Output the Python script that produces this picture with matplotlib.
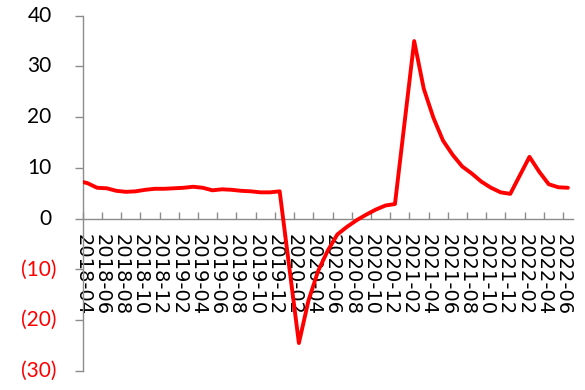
import matplotlib
matplotlib.use("Agg")
import matplotlib.pyplot as plt
from matplotlib.transforms import ScaledTranslation, blended_transform_factory

# Monthly year-to-date growth (%); January has no release, so it is left out
periods = [
    "2018-03", "2018-04", "2018-05", "2018-06", "2018-07", "2018-08", "2018-09",
    "2018-10", "2018-11", "2018-12",
    "2019-02", "2019-03", "2019-04", "2019-05", "2019-06", "2019-07", "2019-08",
    "2019-09", "2019-10", "2019-11", "2019-12",
    "2020-02", "2020-03", "2020-04", "2020-05", "2020-06", "2020-07", "2020-08",
    "2020-09", "2020-10", "2020-11", "2020-12",
    "2021-02", "2021-03", "2021-04", "2021-05", "2021-06", "2021-07", "2021-08",
    "2021-09", "2021-10", "2021-11", "2021-12",
    "2022-02", "2022-03", "2022-04", "2022-05", "2022-06",
]
growth = [
    7.5, 7.0, 6.1, 6.0, 5.5, 5.3, 5.4, 5.7, 5.9, 5.9,
    6.1, 6.3, 6.1, 5.6, 5.8, 5.7, 5.5, 5.4, 5.2, 5.2, 5.4,
    -24.5, -16.1, -10.3, -6.3, -3.1, -1.6, -0.3, 0.8, 1.8, 2.6, 2.9,
    35.0, 25.6, 19.9, 15.4, 12.6, 10.3, 8.9, 7.3, 6.1, 5.2, 4.9,
    12.2, 9.3, 6.8, 6.2, 6.1,
]

tick_labels = [
    "2018-04", "2018-06", "2018-08", "2018-10", "2018-12",
    "2019-02", "2019-04", "2019-06", "2019-08", "2019-10", "2019-12",
    "2020-02", "2020-04", "2020-06", "2020-08", "2020-10", "2020-12",
    "2021-02", "2021-04", "2021-06", "2021-08", "2021-10", "2021-12",
    "2022-02", "2022-04", "2022-06",
]
y_ticks = [-30, -20, -10, 0, 10, 20, 30, 40]

GRAY = "#8c8c8c"
RED = "#ff0000"


def month_pos(period):
    """Months elapsed since 2018-04 (start of the axis)."""
    year, month = map(int, period.split("-"))
    return (year - 2018) * 12 + (month - 4)


# points sit in the middle of their month slot
x = [month_pos(p) + 0.5 for p in periods]

fig = plt.figure(figsize=(5.85, 3.9), dpi=100)
ax = fig.add_axes([0.1414, 0.0487, 0.8376, 0.911])

# the series is drawn above the axis labels it crosses
ax.plot(x, growth, color=RED, lw=2.8, solid_joinstyle="round",
        solid_capstyle="round", zorder=3)

ax.set_xlim(0, 51)
ax.set_ylim(-30, 40)

for side in ("top", "right"):
    ax.spines[side].set_visible(False)
ax.spines["bottom"].set_position(("data", 0))
for side in ("left", "bottom"):
    ax.spines[side].set_color(GRAY)
    ax.spines[side].set_linewidth(1.0)

# category axis along zero, labels reading downwards
ax.set_xticks([month_pos(t) for t in tick_labels])
ax.set_xticklabels(tick_labels, rotation=-90, family="DejaVu Sans",
                   fontsize=14, va="top", ha="center")
ax.tick_params(axis="x", direction="in", length=4.8, width=1.0,
               color=GRAY, pad=11)

# value axis: tick marks only, labels written next to them so that
# positive numbers keep room for a closing parenthesis
ax.set_yticks(y_ticks)
ax.set_yticklabels([])
ax.tick_params(axis="y", direction="out", length=6, width=1.0, color=GRAY)

trans = blended_transform_factory(ax.transAxes, ax.transData)
for v in y_ticks:
    if v < 0:
        text, color, gap = f"({-v})", RED, 26
    else:
        text, color, gap = f"{v}", "black", 31
    offset = ScaledTranslation(-gap / 100, 0, fig.dpi_scale_trans)
    ax.text(0, v, text, transform=trans + offset, ha="right", va="center",
            family="Lato", fontsize=15, color=color, clip_on=False)

fig.savefig("out.png", dpi=100)
